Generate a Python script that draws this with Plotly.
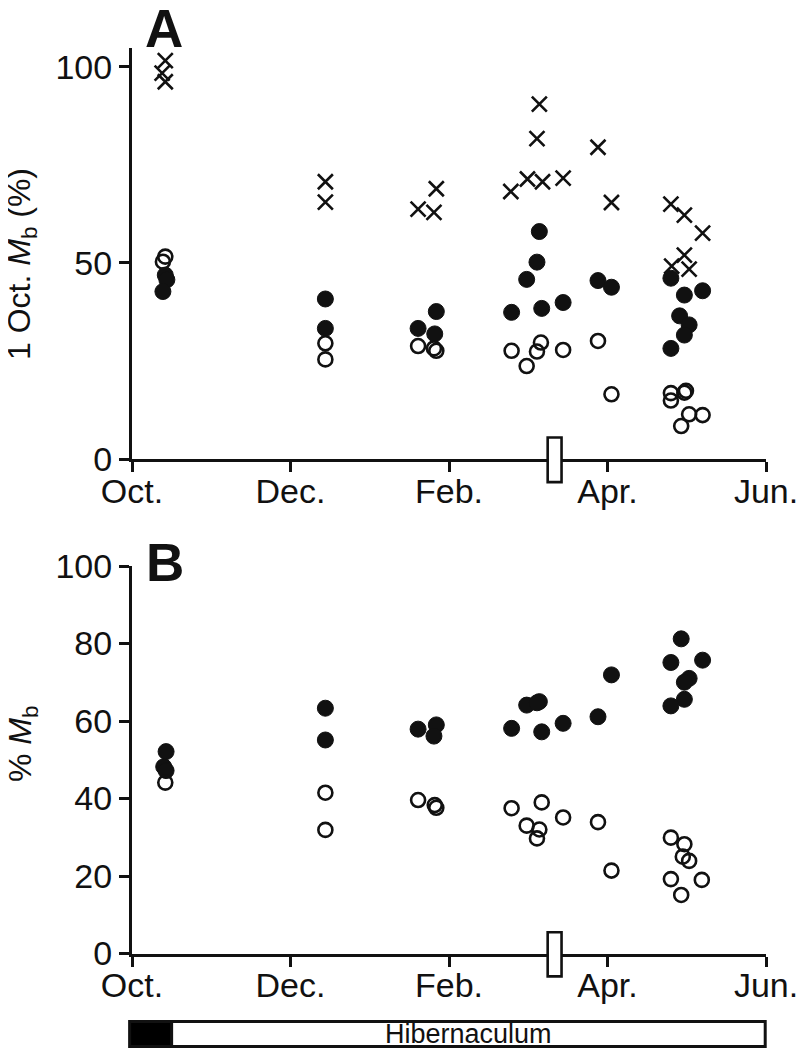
import plotly.graph_objects as go

# ---------------- data (x = months after 1 Oct.) ----------------
month_ticks = [0, 2, 4, 6, 8]
month_labels = ["Oct.", "Dec.", "Feb.", "Apr.", "Jun."]

# Panel A : 1 Oct. Mb (%)
a_cross_x = [0.42, 0.38, 0.42, 2.44, 2.44, 3.84, 3.61, 3.81,
             5.14, 5.11, 4.99, 5.18, 5.44, 4.78, 5.88, 6.05,
             6.80, 6.97, 7.20, 6.97, 6.81, 7.03]
a_cross_y = [101.6, 98.4, 96.2, 70.7, 65.5, 68.9, 63.7, 62.9,
             90.5, 81.7, 71.4, 70.7, 71.6, 68.2, 79.5, 65.4,
             65.0, 62.2, 57.6, 52.0, 49.2, 48.4]

a_fill_x = [0.42, 0.44, 0.39, 2.44, 2.44, 3.84, 3.61, 3.82,
            5.14, 5.11, 4.98, 4.79, 5.17, 5.44, 5.88, 6.05,
            6.80, 6.97, 7.20, 6.91, 7.03, 6.97, 6.80]
a_fill_y = [46.9, 45.7, 42.7, 40.8, 33.3, 37.6, 33.3, 31.9,
            58.0, 50.2, 45.8, 37.4, 38.4, 39.9, 45.5, 43.8,
            46.1, 41.8, 42.9, 36.5, 34.2, 31.6, 28.2]

a_open_x = [0.42, 0.39, 2.44, 2.44, 3.61, 3.81, 3.84,
            4.79, 5.16, 5.11, 4.98, 5.44, 5.88, 6.05,
            6.80, 6.97, 6.99, 6.80, 7.03, 7.20, 6.93]
a_open_y = [51.6, 50.3, 29.5, 25.4, 28.8, 28.2, 27.6,
            27.6, 29.7, 27.4, 23.7, 27.8, 30.1, 16.5,
            16.8, 16.9, 17.4, 14.9, 11.4, 11.2, 8.4]

# Panel B : % Mb
b_fill_x = [0.43, 0.40, 0.43, 2.44, 2.44, 3.61, 3.84, 3.81,
            4.98, 5.14, 5.11, 4.79, 5.17, 5.44, 6.05, 5.88,
            6.93, 6.80, 7.20, 7.03, 6.97, 6.97, 6.80]
b_fill_y = [52.1, 48.2, 47.2, 63.3, 55.1, 57.9, 59.0, 56.1,
            64.1, 65.0, 64.7, 58.1, 57.2, 59.4, 71.9, 61.1,
            81.2, 75.1, 75.7, 71.0, 70.0, 65.6, 63.9]

b_open_x = [0.42, 2.44, 2.44, 3.61, 3.82, 3.84,
            4.79, 5.17, 4.98, 5.14, 5.11, 5.44, 5.88, 6.05,
            6.80, 6.97, 6.95, 7.03, 6.80, 7.19, 6.93]
b_open_y = [44.1, 41.5, 31.9, 39.6, 38.3, 37.6,
            37.5, 39.0, 33.0, 32.0, 29.7, 35.1, 33.9, 21.4,
            29.9, 28.2, 25.0, 23.9, 19.2, 19.0, 15.1]

# event marker box (months) and its vertical extent (axis units)
event_x = [5.245, 5.42]
event_y = [-5.9, 5.5]

# housing periods along the bottom bar
period_names = ["", "Hibernaculum"]
period_start = [-0.03, 0.5]
period_end = [0.5, 7.99]
period_fill = ["black", "white"]

# ---------------- layout geometry ----------------
# page body has an 8px margin, so the figure is drawn 8px in from the corner
OFF = 8
W, H = 805 - OFF, 1052 - OFF


def px(x):
    return (x - OFF) / W


def py(y):
    return 1 - (y - OFF) / H


XDOM = [px(132), px(766)]
XR = [0, 8]
YA_DOM = [py(459), py(48)]
YA_R = [0, 104.8]
YB_DOM = [py(953.5), py(566)]
YB_R = [0, 100]

INK = "#111111"
FONT = "Liberation Sans, Arial, Helvetica, sans-serif"

fig = go.Figure()


def add_pts(x, y, xa, ya, kind):
    if kind == "cross":
        marker = dict(symbol="x-thin", size=15, line=dict(color=INK, width=2.6), color=INK)
    elif kind == "fill":
        marker = dict(symbol="circle", size=16, color=INK, line=dict(color=INK, width=1))
    else:
        marker = dict(symbol="circle-open", size=14, color=INK, line=dict(color=INK, width=2.6))
    fig.add_trace(go.Scatter(x=x, y=y, mode="markers", marker=marker,
                             xaxis=xa, yaxis=ya, showlegend=False, hoverinfo="x+y"))


add_pts(a_cross_x, a_cross_y, "x", "y", "cross")
add_pts(a_fill_x, a_fill_y, "x", "y", "fill")
add_pts(a_open_x, a_open_y, "x", "y", "open")
add_pts(b_fill_x, b_fill_y, "x2", "y2", "fill")
add_pts(b_open_x, b_open_y, "x2", "y2", "open")

axis_common = dict(showline=True, linewidth=3, linecolor=INK, ticks="outside",
                   ticklen=10, tickwidth=3, tickcolor=INK, showgrid=False,
                   zeroline=False, automargin=False,
                   tickfont=dict(family=FONT, size=34, color=INK))
xaxis_extra = dict(tickvals=month_ticks, ticktext=month_labels, ticklabelstandoff=-10)

fig.update_layout(
    template="none",
    width=W, height=H, margin=dict(l=0, r=0, t=0, b=0, autoexpand=False),
    paper_bgcolor="white", plot_bgcolor="white", showlegend=False,
    xaxis=dict(domain=XDOM, range=XR, anchor="y", **xaxis_extra, **axis_common),
    yaxis=dict(domain=YA_DOM, range=YA_R, anchor="x", tickvals=[0, 50, 100], **axis_common),
    xaxis2=dict(domain=XDOM, range=XR, anchor="y2", **xaxis_extra, **axis_common),
    yaxis2=dict(domain=YB_DOM, range=YB_R, anchor="x2", tickvals=[0, 20, 40, 60, 80, 100],
                **axis_common),
)

shapes = []
for xref, yref, rng in (("x", "y domain", YA_R), ("x2", "y2 domain", YB_R)):
    shapes.append(dict(type="rect", xref=xref, yref=yref,
                       x0=event_x[0], x1=event_x[1],
                       y0=(event_y[0] - rng[0]) / (rng[1] - rng[0]),
                       y1=(event_y[1] - rng[0]) / (rng[1] - rng[0]),
                       line=dict(color=INK, width=2.6), fillcolor="white", layer="above"))


def xfrac(m):
    return (m - XR[0]) / (XR[1] - XR[0])


BAR_Y = [py(1046.5), py(1021.5)]
annotations = []
for name, s, e, fc in zip(period_names, period_start, period_end, period_fill):
    shapes.append(dict(type="rect", xref="x2 domain", yref="paper",
                       x0=xfrac(s), x1=xfrac(e), y0=BAR_Y[0], y1=BAR_Y[1],
                       line=dict(color=INK, width=3), fillcolor=fc, layer="above"))
    if name:
        annotations.append(dict(text=name, xref="x2 domain", yref="paper",
                                x=xfrac((s + e) / 2), y=(BAR_Y[0] + BAR_Y[1]) / 2,
                                showarrow=False, xanchor="center", yanchor="middle",
                                font=dict(family=FONT, size=27, color=INK)))

annotations += [
    dict(text="<b>A</b>", xref="paper", yref="paper", x=px(164), y=py(28),
         showarrow=False, xanchor="center", yanchor="middle",
         font=dict(family=FONT, size=53, color=INK)),
    dict(text="<b>B</b>", xref="paper", yref="paper", x=px(165), y=py(562),
         showarrow=False, xanchor="center", yanchor="middle",
         font=dict(family=FONT, size=53, color=INK)),
    dict(text="1 Oct. <i>M</i><sub>b</sub> (%)", xref="paper", yref="paper",
         x=px(22), y=py(264), textangle=-90, showarrow=False,
         xanchor="center", yanchor="middle", font=dict(family=FONT, size=32, color=INK)),
    dict(text="% <i>M</i><sub>b</sub>", xref="paper", yref="paper",
         x=px(22), y=py(744), textangle=-90, showarrow=False,
         xanchor="center", yanchor="middle", font=dict(family=FONT, size=32, color=INK)),
]

fig.update_layout(shapes=shapes, annotations=annotations)
fig.write_html("out.html")
